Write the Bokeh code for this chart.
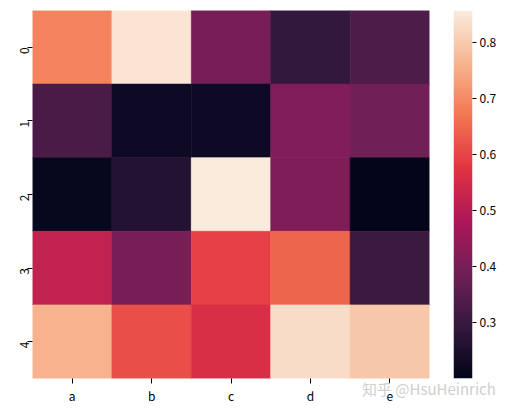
import numpy as np
from bokeh.plotting import figure
from bokeh.models import LinearColorMapper, ColumnDataSource, FixedTicker, Range1d, Div
from bokeh.layouts import row, column
from bokeh.embed import file_html
from bokeh.resources import INLINE

cols = ["a", "b", "c", "d", "e"]
rows = ["0", "1", "2", "3", "4"]
values = [
    [0.69, 0.845, 0.40, 0.29, 0.335],
    [0.33, 0.225, 0.225, 0.415, 0.39],
    [0.21, 0.26, 0.857, 0.41, 0.201],
    [0.52, 0.40, 0.595, 0.645, 0.305],
    [0.76, 0.615, 0.56, 0.83, 0.795],
]
cbar_ticks = [0.3, 0.4, 0.5, 0.6, 0.7, 0.8]
watermark = "知乎 @HsuHeinrich"

# approximate seaborn "rocket" colormap
anchors_pos = [0.0, 1/7, 2/7, 3/7, 4/7, 5/7, 6/7, 1.0]
anchors_hex = ["#03051A", "#35193E", "#701F57", "#AD1759", "#E13342", "#F37651", "#F6B48F", "#FAEBDD"]
rgb = np.array([[int(h[i:i+2], 16) for i in (1, 3, 5)] for h in anchors_hex], dtype=float)
palette = []
for tt in np.linspace(0, 1, 256):
    c = [np.interp(tt, anchors_pos, rgb[:, k]) for k in range(3)]
    palette.append("#%02x%02x%02x" % tuple(int(round(v)) for v in c))

flat = np.array(values)
vmin, vmax = float(flat.min()), float(flat.max())
mapper = LinearColorMapper(palette=palette, low=vmin, high=vmax)

xs, ys, vs = [], [], []
for i, r in enumerate(rows):
    for j, c in enumerate(cols):
        xs.append(c); ys.append(r); vs.append(values[i][j])
src = ColumnDataSource(dict(x=xs, y=ys, v=vs))

FONT = "Noto Sans CJK SC"

p = figure(frame_width=397, frame_height=368, x_range=cols, y_range=list(reversed(rows)),
           output_backend="svg", toolbar_location=None,
           min_border_left=32, min_border_top=10, min_border_bottom=25, min_border_right=24)
p.rect(x="x", y="y", width=1, height=1, source=src,
       fill_color={"field": "v", "transform": mapper},
       line_color={"field": "v", "transform": mapper}, line_width=0.6)
p.outline_line_color = None
p.grid.visible = False
for ax in (p.xaxis, p.yaxis):
    ax.axis_line_color = None
    ax.major_tick_line_color = "black"
    ax.major_tick_out = 5
    ax.major_tick_in = 0
    ax.minor_tick_line_color = None
    ax.major_label_text_font = FONT
    ax.major_label_text_font_size = "12px"
    ax.major_label_text_color = "black"
    ax.major_label_standoff = 3
p.yaxis.major_label_orientation = np.pi / 2

# colour bar as its own small figure
cb = figure(frame_width=19, frame_height=368, x_range=Range1d(0, 1), y_range=Range1d(vmin, vmax),
            output_backend="svg", toolbar_location=None, y_axis_location="right",
            min_border_left=0, min_border_top=10, min_border_bottom=25, min_border_right=4)
grad = np.linspace(vmin, vmax, 256).reshape(256, 1)
cb.image(image=[grad], x=0, y=vmin, dw=1, dh=vmax - vmin, color_mapper=mapper)
cb.outline_line_color = None
cb.grid.visible = False
cb.xaxis.visible = False
cb.yaxis.ticker = FixedTicker(ticks=cbar_ticks)
cb.yaxis.axis_line_color = None
cb.yaxis.major_tick_line_color = "black"
cb.yaxis.major_tick_out = 4
cb.yaxis.major_tick_in = 0
cb.yaxis.minor_tick_line_color = None
cb.yaxis.major_label_text_font = FONT
cb.yaxis.major_label_text_font_size = "12px"
cb.yaxis.major_label_text_color = "black"
cb.yaxis.major_label_standoff = 3

wm = Div(text=watermark, width=160, height=22, margin=(-28, 0, 0, 362),
         styles={"color": "#d0d0d0", "font-family": FONT, "font-size": "15px",
                 "line-height": "22px", "white-space": "nowrap"})

layout = column(row(p, cb), wm)
open("out.html", "w").write(file_html(layout, INLINE))
